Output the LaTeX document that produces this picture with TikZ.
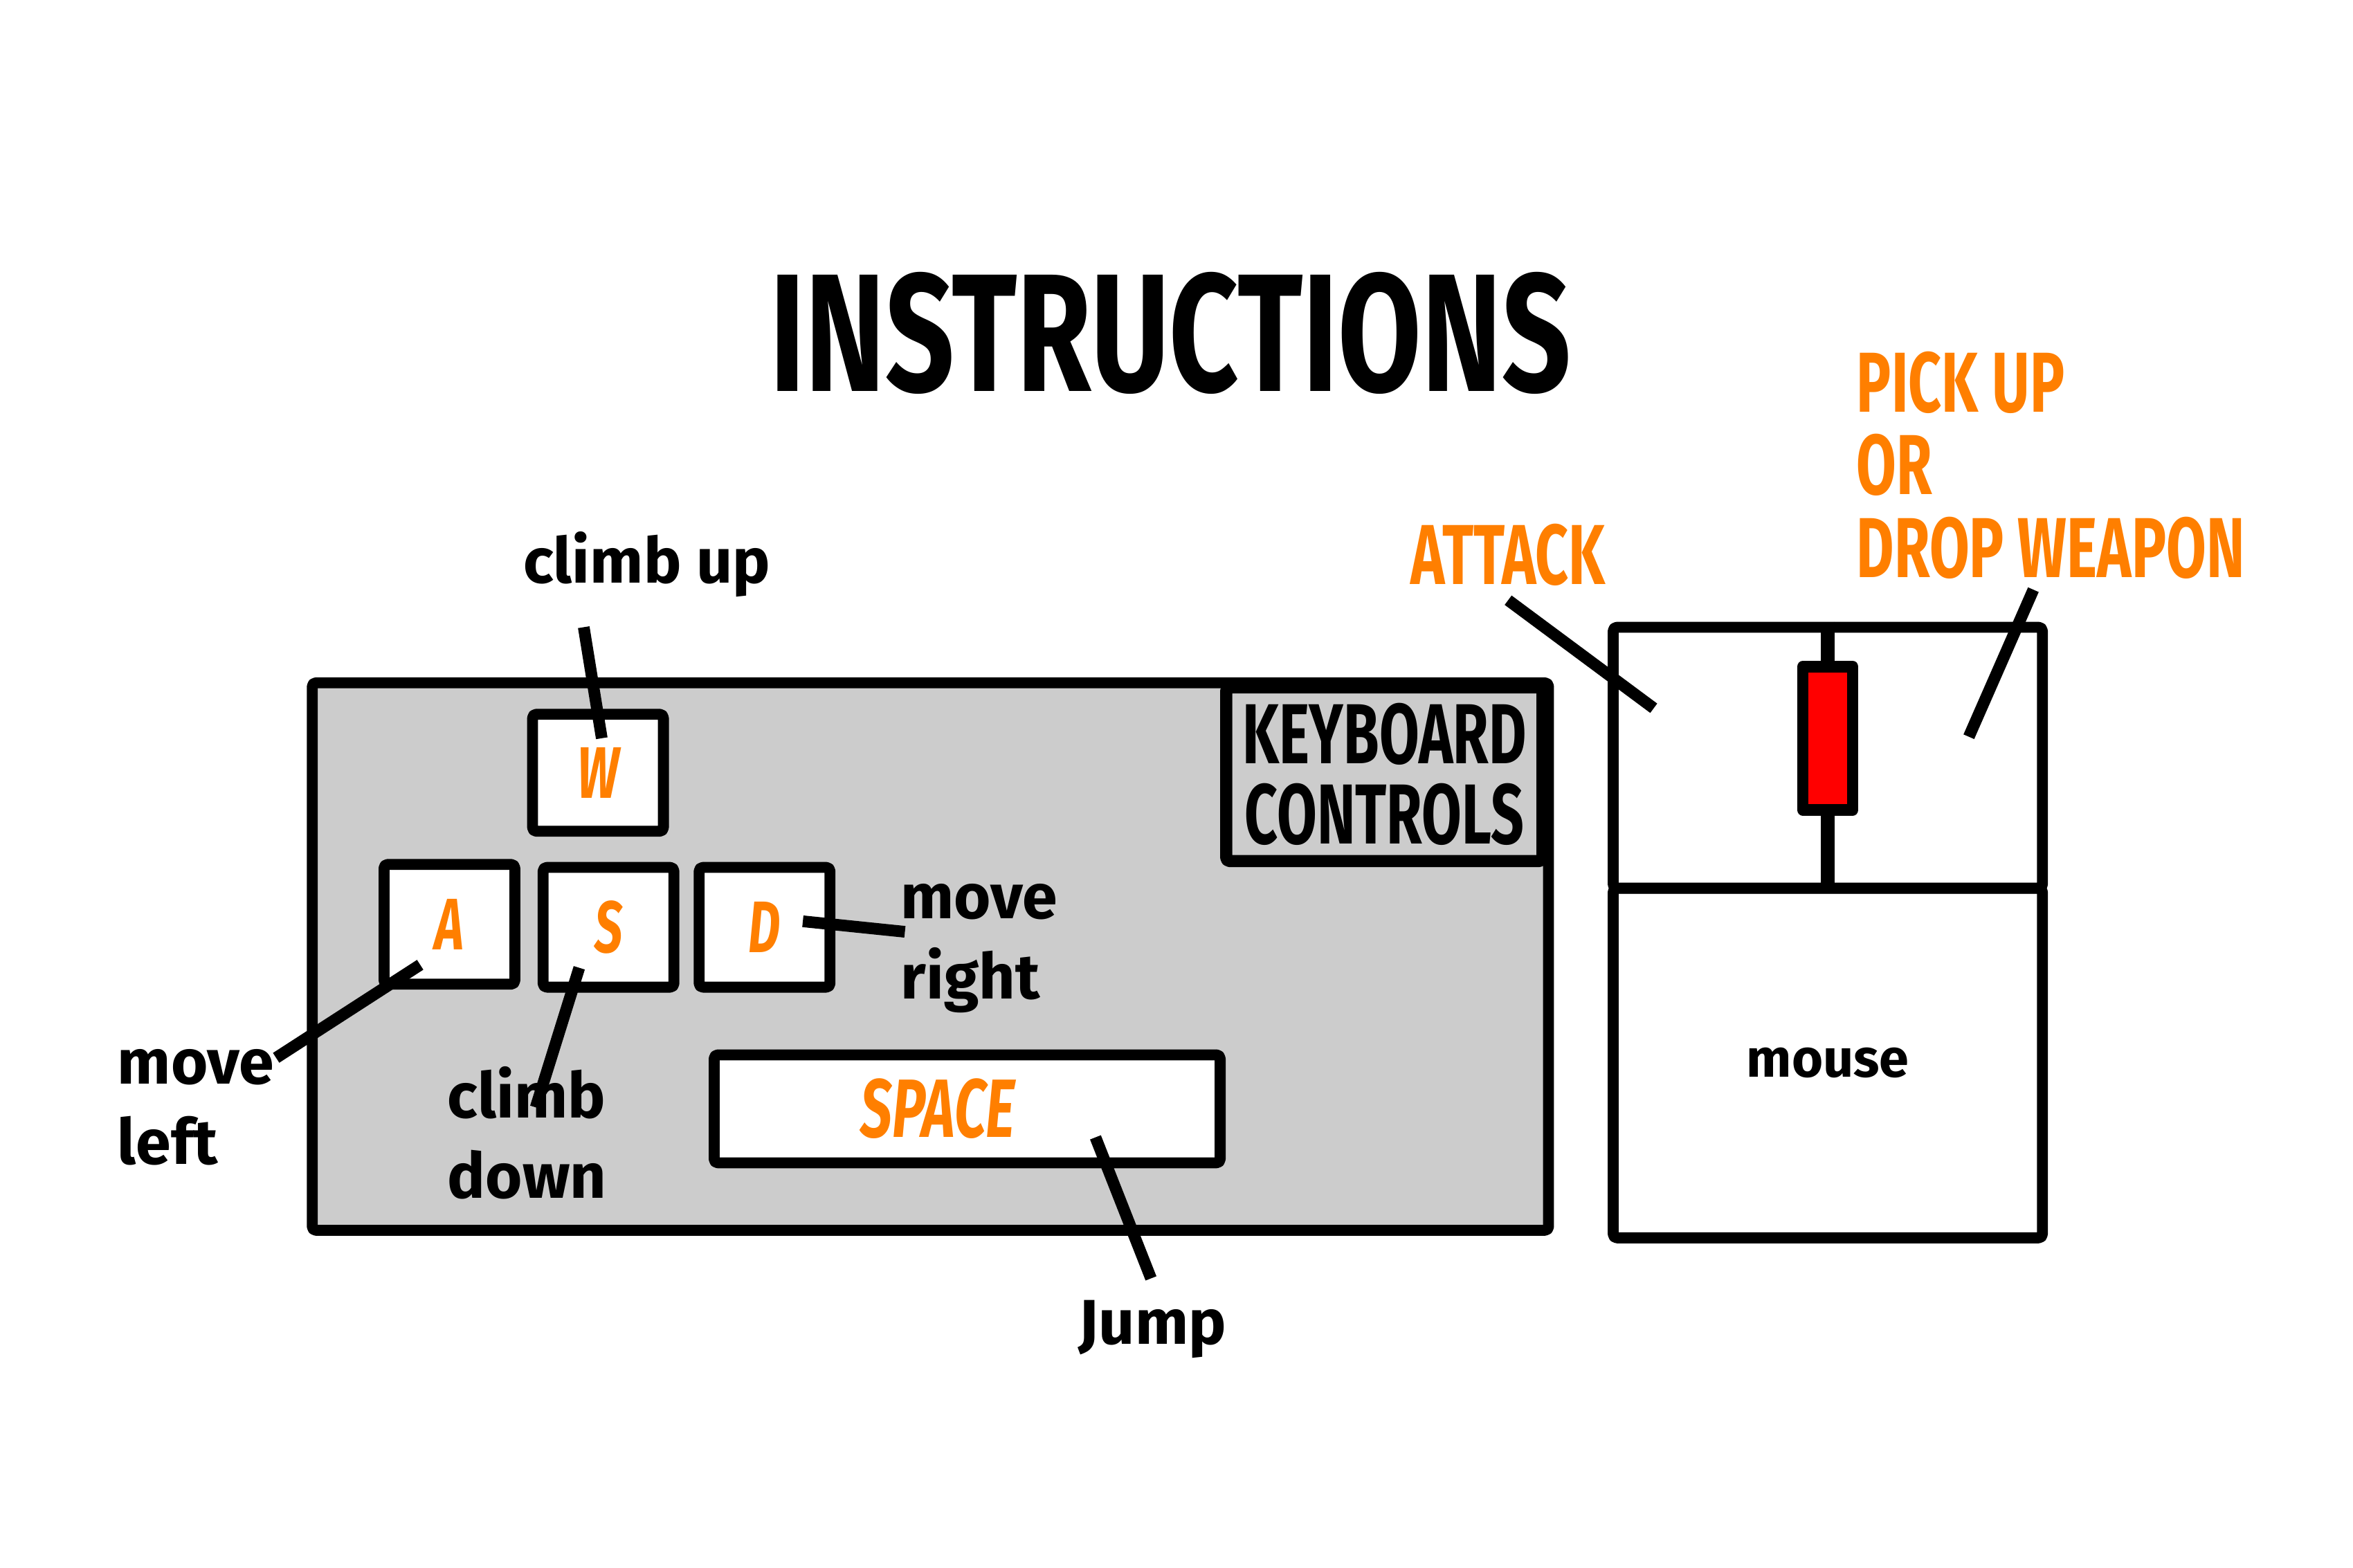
\documentclass[tikz,border=0pt]{standalone}
\usepackage{fontspec}
\setmainfont{Fira Sans}
\newfontfamily\capsfont[FakeStretch=0.68]{Fira Sans}
\newfontfamily\titlefont[FakeStretch=0.72]{Fira Sans}
\usetikzlibrary{calc}
\definecolor{keyorange}{HTML}{FF7F00}
\definecolor{panelgray}{HTML}{CCCCCC}
\definecolor{wheelred}{HTML}{FF0000}

\begin{document}
\begin{tikzpicture}[x=0.2168mm,y=-0.2168mm,
        box/.style={draw,line width=4.5pt,rounded corners=1.5pt,line join=round,inner sep=0pt},
        keybox/.style={box,fill=white,minimum width=18.9mm,minimum height=17.3mm,text=keyorange,
            font=\capsfont\bfseries\itshape\fontsize{30}{30}\selectfont},
        callout/.style={line width=4.8pt},
        hint/.style={font=\bfseries\fontsize{26}{33}\selectfont,align=left,inner sep=0pt},
        action/.style={text=keyorange,font=\capsfont\bfseries\fontsize{35}{34}\selectfont,align=left,inner sep=0pt}]
    \fill[white] (0,0) rectangle (1568,1045);
    \useasboundingbox (0,0) rectangle (1568,1045);
    \node[font=\titlefont\bfseries\fontsize{69}{69}\selectfont] (title) at (780,222) {INSTRUCTIONS};
    % keyboard
    \node[box,fill=panelgray,minimum width=178.6mm,minimum height=79.1mm] (kbd) at (620,637.5) {};
    \node[box,fill=panelgray,line width=5pt,minimum width=45.7mm,minimum height=25.1mm,align=center,
        font=\capsfont\bfseries\fontsize{35}{33}\selectfont] (kbctl) at (922.5,516) {KEYBOARD\\CONTROLS};
    \node[keybox,minimum height=16.9mm] (w) at (398.5,515) {W};
    \node[keybox] (a) at (299.5,616) {A};
    \node[keybox] (s) at (405.5,618) {S};
    \node[keybox] (d) at (509.5,618) {D};
    \node[keybox,minimum width=73.1mm,minimum height=15.6mm,font=\capsfont\bfseries\itshape\fontsize{34}{34}\selectfont] (space) at (644.5,739) {SPACE\hspace*{24pt}};
    \node[hint] (climbup) at (431,376) {climb up};
    \node[hint,anchor=west] (moveright) at (600,632) {move\\right};
    \node[hint,anchor=west] (moveleft) at (78,738) {move\\left};
    \node[hint,anchor=west] (climbdown) at (298,755) {climb\\down};
    \node[hint] (jump) at (768,886) {Jump};
    % mouse
    \node[box,minimum width=62mm,minimum height=37.7mm] (buttons) at (1218,505) {};
    \node[box,minimum width=62mm,minimum height=50.5mm,font=\bfseries\fontsize{22}{22}\selectfont] (mbody) at (1218,708.5) {mouse};
    \draw[line width=5.7pt] (buttons.north) -- (buttons.south);
    \node[box,fill=wheelred,line width=4.7pt,rounded corners=0pt,minimum width=7.2mm,minimum height=20.7mm] (wheel) at (1218,492) {};
    \node[action] (attack) at (1005,370) {ATTACK};
    \node[action,anchor=west] (pickup) at (1237,310) {PICK UP\\OR\\DROP WEAPON};
    % callouts
    \draw[callout] ($(climbup.center)+(-42,42)$) -- ($(w.center)+(2.5,-23)$);
    \draw[callout] ($(d.center)+(25.5,-4)$) -- ($(moveright.west)+(3,-11)$);
    \draw[callout] ($(a.center)+(-19.5,27)$) -- ($(moveleft.west)+(106,-33)$);
    \draw[callout] ($(s.center)+(-19.5,27)$) -- ($(climbdown.west)+(59,-17)$);
    \draw[callout] ($(space.center)+(85.5,19)$) -- ($(jump.center)+(-1,-34)$);
    \draw[callout] ($(attack.center)+(0,30)$) -- ($(buttons.center)+(-116,-33)$);
    \draw[callout] ($(pickup.west)+(118,83)$) -- ($(buttons.center)+(94,-14)$);
\end{tikzpicture}
\end{document}
